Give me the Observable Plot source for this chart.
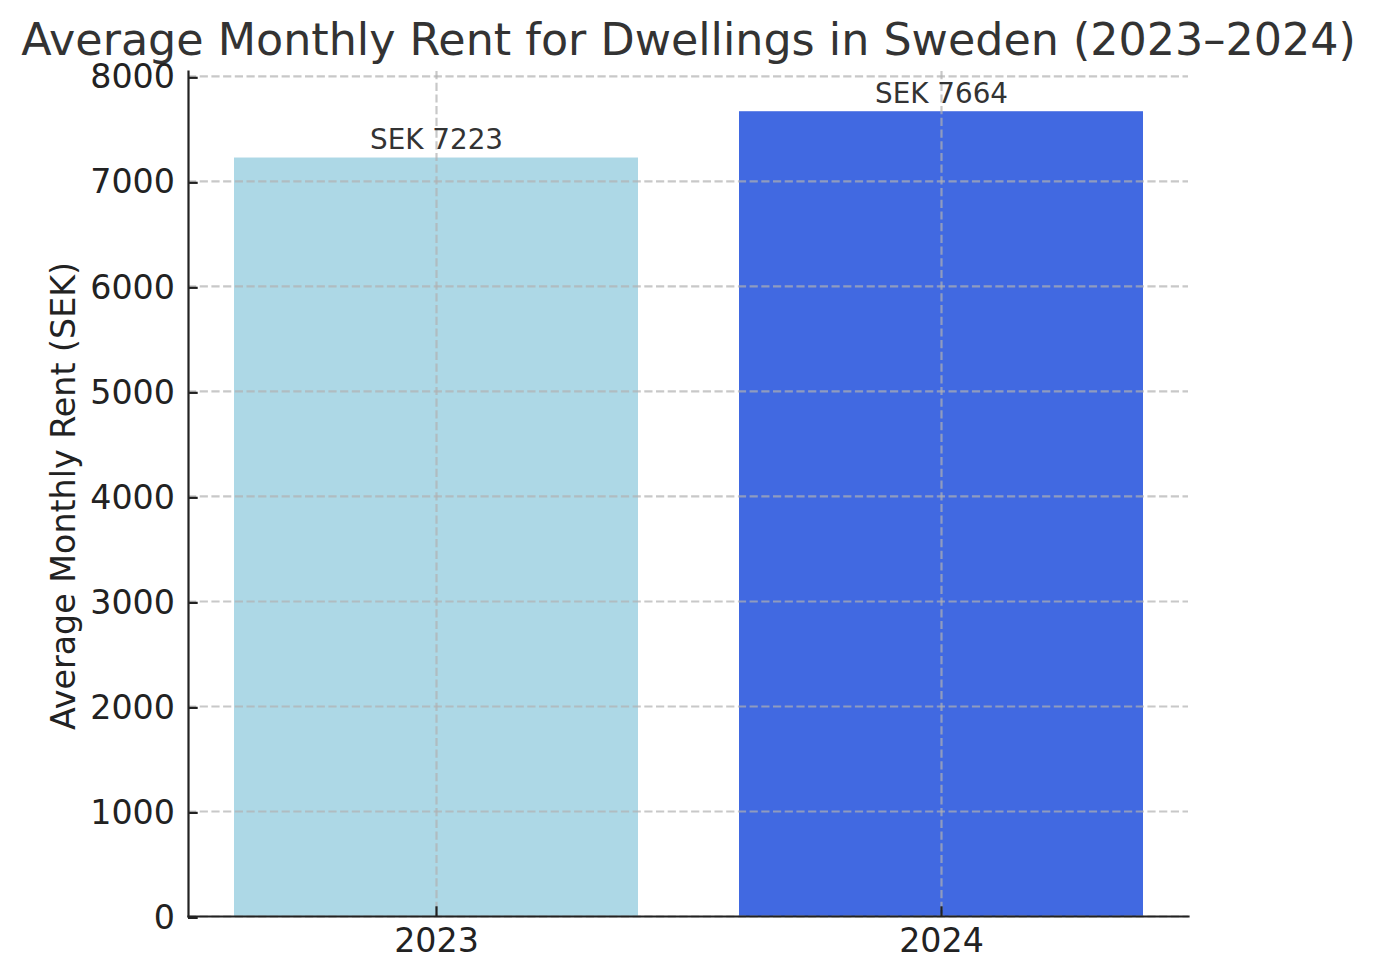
<!DOCTYPE html>
<html><head><meta charset="utf-8">
<script src="https://cdn.jsdelivr.net/npm/d3@7"></script>
<script src="https://cdn.jsdelivr.net/npm/@observablehq/plot@0.6"></script>
<style>
html,body{margin:0;padding:0;background:#fff;}
#title{height:64px;line-height:79px;text-align:center;font-family:"DejaVu Sans";font-size:44.4px;color:#333;white-space:nowrap;}
#chart svg{display:block;overflow:visible}
</style></head><body>
<div id="title"></div>
<div id="chart"></div>
<script>
const titleText = "Average Monthly Rent for Dwellings in Sweden (2023–2024)";
const yLabel = "Average Monthly Rent (SEK)";
const years = ["2023", "2024"];
const rents = [7223, 7664];
const barColors = ["#ADD8E6", "#4169E1"];
const yTicks = [0, 1000, 2000, 3000, 4000, 5000, 6000, 7000, 8000];
const yMax = 8047;

document.getElementById("title").textContent = titleText;

const data = years.map((year, i) => ({year, rent: rents[i], color: barColors[i], label: `SEK ${rents[i]}`}));

const gridStyle = {stroke: "#b0b0b0", strokeOpacity: 0.7, strokeWidth: 2.2, strokeDasharray: "8.2,3.5"};

const chart = Plot.plot({
  width: 1377,
  height: 916,
  marginLeft: 188,
  marginRight: 189,
  marginTop: 7,
  marginBottom: 64,
  style: {fontFamily: "DejaVu Sans", fontSize: "33.3px", color: "#222", background: "#fff", overflow: "visible"},
  x: {type: "band", domain: years, paddingInner: 0.2, paddingOuter: 0.09, label: null},
  y: {domain: [0, yMax], label: null},
  marks: [
    Plot.barY(data, {x: "year", y: "rent", fill: "color"}),
    Plot.gridX(years, {...gridStyle}),
    Plot.gridY(yTicks, {...gridStyle}),
    Plot.text(data, {x: "year", y: "rent", text: "label", dy: -9, lineAnchor: "bottom", fill: "#333", fontSize: 27.8}),
    Plot.axisY(yTicks, {tickSize: -9.7, tickPadding: 23.2, strokeWidth: 2.2, stroke: "#222", fontSize: 33.3, dy: 1.4, label: null, tickFormat: d => String(d)}),
    Plot.axisX(years, {tickSize: -9.7, tickPadding: 21.7, strokeWidth: 2.2, stroke: "#222", fontSize: 33.3, label: null}),
    Plot.frame({anchor: "left", stroke: "#222", strokeWidth: 2.2}),
    Plot.frame({anchor: "bottom", stroke: "#222", strokeWidth: 2.2}),
    Plot.text([yLabel], {frameAnchor: "left", textAnchor: "middle", dx: -124, dy: 2, rotate: -90, fontSize: 33.3, fill: "#222", lineAnchor: "middle"})
  ]
});
document.getElementById("chart").appendChild(chart);
</script>
</body></html>
